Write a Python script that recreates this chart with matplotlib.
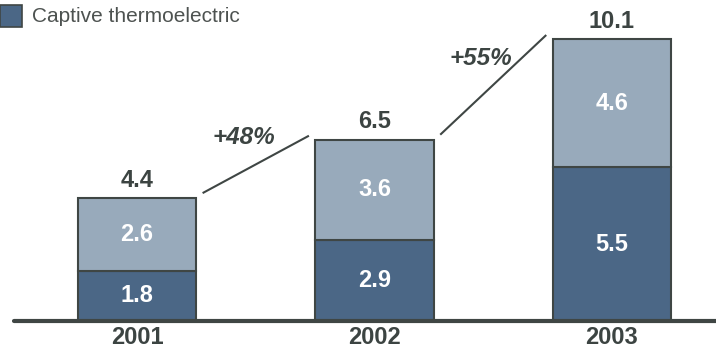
import matplotlib
matplotlib.use("Agg")
import matplotlib.pyplot as plt
from matplotlib.patches import Rectangle

plt.rcParams['font.family'] = ['Liberation Sans', 'DejaVu Sans']

years = ['2001', '2002', '2003']
captive = [1.8, 2.9, 5.5]
other = [2.6, 3.6, 4.6]
totals = [4.4, 6.5, 10.1]
growth = ['+48%', '+55%']

dark = '#4b6786'
light = '#98aabb'
edge = '#3f4644'
txt = '#3c4442'

fig = plt.figure(figsize=(7.16, 3.52), dpi=100)
ax = fig.add_axes([0, 0, 1, 1])
ax.set_xlim(-0.577, 2.438)
ax.set_ylim(-1.11, 11.5)
ax.axis('off')

x = range(len(years))
w = 0.5
ax.bar(x, captive, w, color=dark, edgecolor=edge, linewidth=1.5, zorder=2)
ax.bar(x, other, w, bottom=captive, color=light, edgecolor=edge, linewidth=1.5, zorder=2)

# baseline
ax.plot([-0.52, 2.44], [0, 0], color=edge, lw=3, solid_capstyle='round', zorder=3)

for i in x:
    ax.text(i, captive[i] / 2, f'{captive[i]:.1f}', ha='center', va='center',
            color='white', fontsize=17, fontweight='bold')
    ax.text(i, captive[i] + other[i] / 2, f'{other[i]:.1f}', ha='center', va='center',
            color='white', fontsize=17, fontweight='bold')
    ax.text(i, totals[i] + 0.22, f'{totals[i]:.1f}', ha='center', va='bottom',
            color=txt, fontsize=17, fontweight='bold')
    ax.text(i, -0.6, years[i], ha='center', va='center',
            color=txt, fontsize=17, fontweight='bold')

# growth connectors between bar tops
for i, g in enumerate(growth):
    x0, y0 = i + w / 2 + 0.03, totals[i] + 0.2
    x1, y1 = i + 1 - w / 2 - 0.03, totals[i + 1] + 0.12
    ax.plot([x0, x1], [y0, y1], color=edge, lw=1.5)
    ax.text((x0 + x1) / 2 - 0.05, (y0 + y1) / 2 + 0.95, g, ha='center', va='center',
            color=txt, fontsize=17.5, fontweight='bold', style='italic')

# legend
fig.patches.append(Rectangle((0, 1 - 27 / 352), 22 / 716, 22 / 352,
                             transform=fig.transFigure, facecolor=dark,
                             edgecolor=edge, linewidth=1.2))
fig.text(32 / 716, 1 - 17 / 352, 'Captive thermoelectric', ha='left', va='center',
         color='#4d5250', fontsize=15)

fig.savefig('out.png', dpi=100)
